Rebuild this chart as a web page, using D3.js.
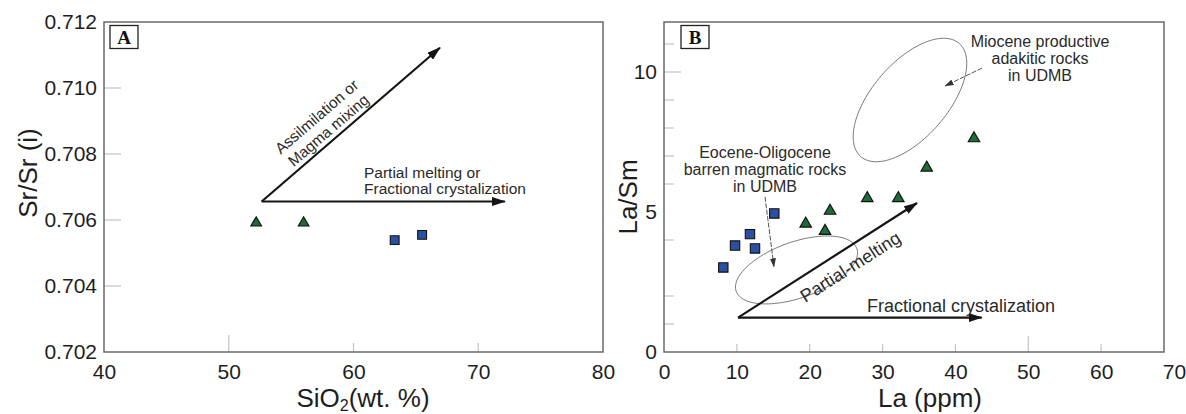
<!DOCTYPE html>
<html>
<head>
<meta charset="utf-8">
<script src="https://cdn.jsdelivr.net/npm/d3@7"></script>
<style>
body { margin: 0; background: #fff; }
svg { display: block; background: #fff; font-family: "Liberation Sans", Arial, sans-serif; }
.frame { fill: none; stroke: #6a6a6a; stroke-width: 1.5; }
.tick-in { stroke: #c4c4c4; stroke-width: 1.2; }
.axis-title { font-size: 26px; fill: #1e1e1e; }
.note { fill: #2a2a2a; }
.arrow { stroke: #151515; stroke-width: 2.2; fill: none; }
.pointer { stroke: #555; stroke-width: 1; fill: none; stroke-dasharray: 5 1.5; }
.field { fill: none; stroke: #7a7a7a; stroke-width: 1; }
.panel-tag rect { fill: #fff; stroke: #222; stroke-width: 1.3; }
.panel-tag text { font-family: "Liberation Serif", "Times New Roman", serif; font-weight: bold; font-size: 19px; fill: #111; }
</style>
</head>
<body>
<svg id="chart"></svg>
<script>
// ---- panel A : Sr/Sr(i) vs SiO2 ----
const siO2Tri = [52.2, 56.0];
const srTri = [0.70591, 0.70591];
const siO2Sq = [63.3, 65.5];
const srSq = [0.70539, 0.70555];
const aTicksX = [40, 50, 60, 70, 80];
const aTicksY = [0.702, 0.704, 0.706, 0.708, 0.710, 0.712];
// arrows: common start, horizontal tip, diagonal tip
const aArrowStart = [52.64, 0.70656];
const aArrowFC = [72.14, 0.70656];
const aArrowAM = [66.93, 0.71122];

// ---- panel B : La/Sm vs La ----
const laSq = [15.14, 11.80, 9.75, 12.49, 8.14];
const lasmSq = [4.95, 4.21, 3.80, 3.70, 3.02];
const laTri = [19.45, 22.79, 22.10, 27.90, 32.16, 36.06, 42.55];
const lasmTri = [4.58, 5.04, 4.32, 5.49, 5.49, 6.58, 7.63];
const bTicksX = [0, 10, 20, 30, 40, 50, 60, 70];
const bTicksY = [0, 5, 10];
const bMinorY = [1, 2, 4, 6, 7, 8, 9, 10, 11];
const bArrowStart = [10.16, 1.23];
const bArrowFC = [43.61, 1.23];
const bArrowPM = [34.73, 5.32];
// fields: centre (La, La/Sm)
const eoceneField = [18.19, 2.93];
const mioceneField = [33.76, 9.0];
const eocenePointer = [[13.86, 5.54], [15.10, 3.04]];
const miocenePointer = [[43.65, 10.14], [38.57, 9.5]];

const W = 1186, H = 414;
const svg = d3.select("#chart").attr("width", W).attr("height", H);

const defs = svg.append("defs");
defs.append("marker")
    .attr("id", "head")
    .attr("viewBox", "0 0 14 9")
    .attr("refX", 13).attr("refY", 4.5)
    .attr("markerWidth", 14).attr("markerHeight", 9)
    .attr("markerUnits", "userSpaceOnUse")
    .attr("orient", "auto")
    .append("path").attr("d", "M0,0L14,4.5L0,9z").attr("fill", "#151515");
defs.append("marker")
    .attr("id", "small-head")
    .attr("viewBox", "0 0 9 6")
    .attr("refX", 8.5).attr("refY", 3)
    .attr("markerWidth", 9).attr("markerHeight", 6)
    .attr("markerUnits", "userSpaceOnUse")
    .attr("orient", "auto")
    .append("path").attr("d", "M0,0L9,3L0,6z").attr("fill", "#333");

const xA = d3.scaleLinear().domain([40, 80]).range([104, 603]);
const yA = d3.scaleLinear().domain([0.702, 0.712]).range([352, 22]);
const xB = d3.scaleLinear().domain([0, 70]).range([664, 1174]);
const yB = d3.scaleLinear().domain([0, 330 / 28]).range([352, 22]);

const triangle = d3.symbol().type(d3.symbolTriangle);
const square = d3.symbol().type(d3.symbolSquare);

const styleAxis = (g, size) => {
    g.attr("font-family", null).attr("font-size", size);
    g.select(".domain").remove();
    g.selectAll("text").attr("fill", "#1e1e1e");
};

const drawPanel = (cfg) => {
    const {x, y, ticksX, ticksY, tag, frameRight} = cfg;
    const g = svg.append("g");

    g.append("g")
        .attr("transform", `translate(0,${y.range()[0]})`)
        .call(d3.axisBottom(x).tickValues(ticksX).tickSize(0).tickPadding(12).tickFormat(cfg.fmtX))
        .call(a => styleAxis(a, 21));
    g.append("g")
        .attr("transform", `translate(${x.range()[0]},0)`)
        .call(d3.axisLeft(y).tickValues(ticksY).tickSize(0).tickPadding(7).tickFormat(cfg.fmtY))
        .call(a => styleAxis(a, 21));

    // faint inner ticks
    g.selectAll(".ty").data(cfg.innerY).join("line")
        .attr("class", "tick-in")
        .attr("x1", x.range()[0]).attr("x2", d => x.range()[0] + d[1])
        .attr("y1", d => y(d[0])).attr("y2", d => y(d[0]));
    g.selectAll(".tx").data(cfg.innerX).join("line")
        .attr("class", "tick-in")
        .attr("x1", d => x(d[0])).attr("x2", d => x(d[0]))
        .attr("y1", y.range()[0]).attr("y2", d => y.range()[0] - d[1]);

    g.append("rect")
        .attr("class", "frame")
        .attr("x", x.range()[0]).attr("y", y.range()[1])
        .attr("width", frameRight - x.range()[0])
        .attr("height", y.range()[0] - y.range()[1]);

    const t = g.append("g").attr("class", "panel-tag")
        .attr("transform", `translate(${x.range()[0] + tag.dx},${y.range()[1] + 3.5})`);
    t.append("rect").attr("width", 28).attr("height", 23);
    t.append("text").attr("x", 14).attr("y", 18.5).attr("text-anchor", "middle").text(tag.label);
    return g;
};

const arrow = (g, x, y, from, to, cls, marker) =>
    g.append("line")
        .attr("class", cls)
        .attr("x1", x(from[0])).attr("y1", y(from[1]))
        .attr("x2", x(to[0])).attr("y2", y(to[1]))
        .attr("marker-end", `url(#${marker})`);

const angleOf = (x, y, from, to) =>
    Math.atan2(y(to[1]) - y(from[1]), x(to[0]) - x(from[0])) * 180 / Math.PI;

const plotPoints = (g, x, y, xs, ys, sym, size, fill) =>
    g.selectAll(null).data(xs.map((v, i) => [v, ys[i]])).join("path")
        .attr("d", sym.size(size)())
        .attr("transform", d => `translate(${x(d[0])},${y(d[1])})`)
        .attr("fill", fill)
        .attr("stroke", "#111")
        .attr("stroke-width", 1.1);

// ---------- panel A ----------
const gA = drawPanel({
    x: xA, y: yA, ticksX: aTicksX, ticksY: aTicksY,
    fmtX: d3.format("d"), fmtY: d3.format(".3f"),
    innerY: [[0.710, 17], [0.708, 17], [0.706, 17], [0.704, 17]],
    innerX: [[50, 17], [60, 9], [70, 9]],
    frameRight: 603,
    tag: {label: "A", dx: 6}
});

arrow(gA, xA, yA, aArrowStart, aArrowFC, "arrow", "head");
arrow(gA, xA, yA, aArrowStart, aArrowAM, "arrow", "head");

const amAngle = angleOf(xA, yA, aArrowStart, aArrowAM);
const amText = gA.append("g")
    .attr("transform", `translate(${xA(aArrowStart[0])},${yA(aArrowStart[1])}) rotate(${amAngle})`)
    .attr("class", "note").attr("font-size", 15.5).attr("text-anchor", "middle");
amText.append("text").attr("x", 97).attr("y", -23).text("Assilmilation or");
amText.append("text").attr("x", 97).attr("y", -5).text("Magma mixing");

const fcA = gA.append("g").attr("class", "note").attr("font-size", 15.5);
fcA.append("text").attr("x", 364).attr("y", 178).text("Partial melting or");
fcA.append("text").attr("x", 364).attr("y", 194).text("Fractional crystalization");

plotPoints(gA, xA, yA, siO2Tri, srTri, triangle, 50, "#1d6b38");
plotPoints(gA, xA, yA, siO2Sq, srSq, square, 78, "#2b50a2");

gA.append("text").attr("class", "axis-title")
    .attr("transform", "translate(37,173) rotate(-90)")
    .attr("text-anchor", "middle")
    .text("Sr/Sr (i)");
const sio2 = gA.append("text").attr("class", "axis-title")
    .attr("x", 363).attr("y", 406.5).attr("text-anchor", "middle");
sio2.append("tspan").text("SiO");
sio2.append("tspan").attr("font-size", 16).attr("dy", 4).text("2");
sio2.append("tspan").attr("dy", -4).text("(wt. %)");

// ---------- panel B ----------
const gB = drawPanel({
    x: xB, y: yB, ticksX: bTicksX, ticksY: bTicksY,
    fmtX: d3.format("d"), fmtY: d3.format("d"),
    innerY: bMinorY.map(v => [v, v === 10 ? 17 : 10]),
    innerX: [[10, 8], [20, 8], [30, 8], [40, 8], [50, 16], [60, 8]],
    frameRight: 1164,
    tag: {label: "B", dx: 17}
});

const ellipsePath = (cx, cy, a, b, deg) => {
    const phi = deg * Math.PI / 180;
    const pts = d3.range(0, 2 * Math.PI, Math.PI / 60).map(t => [
        cx + a * Math.cos(t) * Math.cos(phi) - b * Math.sin(t) * Math.sin(phi),
        cy - (a * Math.cos(t) * Math.sin(phi) + b * Math.sin(t) * Math.cos(phi))
    ]);
    return d3.line().curve(d3.curveLinearClosed)(pts);
};

gB.append("path").attr("class", "field")
    .attr("d", ellipsePath(xB(eoceneField[0]), yB(eoceneField[1]), 64, 28, 19.5));
gB.append("path").attr("class", "field")
    .attr("d", ellipsePath(xB(mioceneField[0]), yB(mioceneField[1]), 75, 37.6, 49));

arrow(gB, xB, yB, bArrowStart, bArrowFC, "arrow", "head");
arrow(gB, xB, yB, bArrowStart, bArrowPM, "arrow", "head");
arrow(gB, xB, yB, eocenePointer[0], eocenePointer[1], "pointer", "small-head");
arrow(gB, xB, yB, miocenePointer[0], miocenePointer[1], "pointer", "small-head");

const pmAngle = angleOf(xB, yB, bArrowStart, bArrowPM);
gB.append("text").attr("class", "note")
    .attr("transform", `translate(${xB(bArrowStart[0])},${yB(bArrowStart[1])}) rotate(${pmAngle})`)
    .attr("x", 122).attr("y", 24)
    .attr("font-size", 18).attr("text-anchor", "middle")
    .text("Partial-melting");
gB.append("text").attr("class", "note")
    .attr("x", 867).attr("y", 312).attr("font-size", 18)
    .text("Fractional crystalization");

const eoText = gB.append("g").attr("class", "note").attr("font-size", 16).attr("text-anchor", "middle");
["Eocene-Oligocene", "barren magmatic rocks", "in UDMB"].forEach((s, i) =>
    eoText.append("text").attr("x", 765).attr("y", 158 + i * 17).text(s));
const miText = gB.append("g").attr("class", "note").attr("font-size", 16).attr("text-anchor", "middle");
["Miocene productive", "adakitic rocks", "in UDMB"].forEach((s, i) =>
    miText.append("text").attr("x", 1040).attr("y", 47 + i * 17).text(s));

plotPoints(gB, xB, yB, laSq, lasmSq, square, 88, "#2b50a2");
plotPoints(gB, xB, yB, laTri, lasmTri, triangle, 58, "#1d6b38");

gB.append("text").attr("class", "axis-title")
    .attr("transform", "translate(637,197) rotate(-90)")
    .attr("text-anchor", "middle")
    .text("La/Sm");
gB.append("text").attr("class", "axis-title")
    .attr("x", 930).attr("y", 406.5).attr("text-anchor", "middle")
    .text("La (ppm)");
</script>
</body>
</html>
